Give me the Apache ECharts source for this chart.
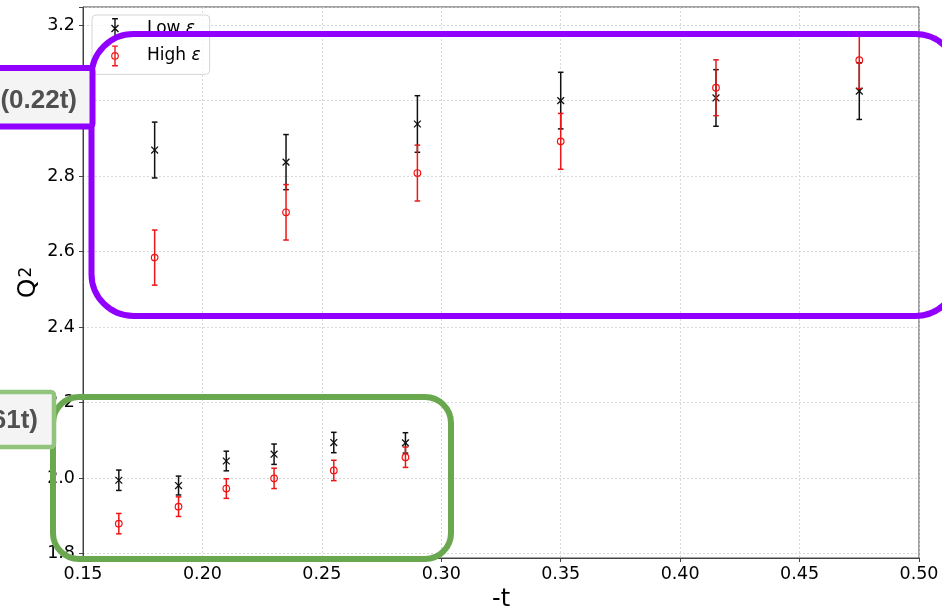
<!DOCTYPE html>
<html>
<head>
<meta charset="utf-8">
<script src="https://cdn.jsdelivr.net/npm/echarts@6/dist/echarts.min.js"></script>
<style>
  html, body { margin: 0; padding: 0; background: #fff; }
  #chart { width: 942px; height: 610px; }
</style>
</head>
<body>
<div id="chart"></div>
<script>
// -t values of the measured points
const tValues    = [0.165, 0.19, 0.21, 0.23, 0.255, 0.285, 0.18, 0.235, 0.29, 0.35, 0.415, 0.475];
// Q^2 at low epsilon, with symmetric errors
const lowEpsQ2   = [1.994, 1.980, 2.045, 2.063, 2.094, 2.093, 2.869, 2.837, 2.938, 3.000, 3.007, 3.025];
const lowEpsErr  = [0.027, 0.025, 0.026, 0.027, 0.027, 0.027, 0.074, 0.073, 0.075, 0.075, 0.075, 0.075];
// Q^2 at high epsilon, with symmetric errors
const highEpsQ2  = [1.879, 1.924, 1.972, 1.999, 2.020, 2.055, 2.584, 2.704, 2.808, 2.892, 3.034, 3.107];
const highEpsErr = [0.027, 0.026, 0.026, 0.027, 0.027, 0.027, 0.073, 0.0735, 0.074, 0.074, 0.074, 0.075];
// axis ticks
const xTicks = [0.15, 0.20, 0.25, 0.30, 0.35, 0.40, 0.45, 0.50];
const yTicks = [1.8, 2.0, 2.2, 2.4, 2.6, 2.8, 3.0, 3.2];
// annotation labels
const fitLabelTop = '(0.22t)';
const fitLabelBottom = '(0.61t)';

const LOW_COLOR = '#111111';
const HIGH_COLOR = '#f01515';

function errRender(kind, color) {
  return function (params, api) {
    const x = api.value(0), y = api.value(1), e = api.value(2);
    const c = api.coord([x, y]);
    const top = api.coord([x, y + e]);
    const bot = api.coord([x, y - e]);
    const cap = 2.8;
    const lw = 1.5;
    const children = [
      { type: 'line', shape: { x1: top[0], y1: top[1], x2: bot[0], y2: bot[1] }, style: { stroke: color, lineWidth: lw } },
      { type: 'line', shape: { x1: top[0] - cap, y1: top[1], x2: top[0] + cap, y2: top[1] }, style: { stroke: color, lineWidth: lw } },
      { type: 'line', shape: { x1: bot[0] - cap, y1: bot[1], x2: bot[0] + cap, y2: bot[1] }, style: { stroke: color, lineWidth: lw } }
    ];
    if (kind === 'x') {
      const s = 3.4;
      children.push({ type: 'line', shape: { x1: c[0] - s, y1: c[1] - s, x2: c[0] + s, y2: c[1] + s }, style: { stroke: color, lineWidth: 1.3 } });
      children.push({ type: 'line', shape: { x1: c[0] - s, y1: c[1] + s, x2: c[0] + s, y2: c[1] - s }, style: { stroke: color, lineWidth: 1.3 } });
    } else {
      children.push({ type: 'circle', shape: { cx: c[0], cy: c[1], r: 3.3 }, style: { fill: 'rgba(0,0,0,0)', stroke: color, lineWidth: 1.2 } });
    }
    return { type: 'group', children: children };
  };
}

const lowIcon = 'path://M3.4,0 h1.2 v18 h-1.2 Z M1.5,0 h5 v1.2 h-5 Z M1.5,16.8 h5 v1.2 h-5 Z ' +
  'M0.58,6.42 L1.42,5.58 L7.42,11.58 L6.58,12.42 Z M1.42,12.42 L0.58,11.58 L6.58,5.58 L7.42,6.42 Z';
const highIcon = 'path://M3.4,0 h1.2 v18 h-1.2 Z M1.5,0 h5 v1.2 h-5 Z M1.5,16.8 h5 v1.2 h-5 Z ' +
  'M7.3,9 A3.3,3.3 0 1,1 0.7,9 A3.3,3.3 0 1,1 7.3,9 Z M6.3,9 A2.3,2.3 0 1,0 1.7,9 A2.3,2.3 0 1,0 6.3,9 Z';

const FONT = 'DejaVu Sans';
const chart = echarts.init(document.getElementById('chart'), null, { renderer: 'canvas' });

const option = {
  animation: false,
  backgroundColor: '#ffffff',
  grid: {
    left: 83, right: 23, top: 7, bottom: 52, show: true, borderColor: '#444', borderWidth: 1,
    backgroundColor: 'transparent', containLabel: false, outerBoundsMode: 'none'
  },
  legend: {
    left: 92, top: 15, orient: 'vertical',
    padding: [3, 9, 8, 19], itemGap: 6.4, itemWidth: 10, itemHeight: 21,
    backgroundColor: 'rgba(255,255,255,0.8)', borderColor: '#d6d6d6', borderWidth: 1, borderRadius: 4,
    data: [
      { name: 'Low ε', icon: lowIcon, itemStyle: { color: LOW_COLOR } },
      { name: 'High ε', icon: highIcon, itemStyle: { color: HIGH_COLOR } }
    ],
    formatter: function (name) { return '{sp|}' + name.replace('ε', '{e|ε}'); },
    textStyle: {
      fontFamily: FONT, fontSize: 17, color: '#000',
      rich: {
        sp: { width: 22 },
        e: { fontFamily: FONT, fontSize: 17, fontStyle: 'italic', color: '#000' }
      }
    }
  },
  xAxis: {
    type: 'value', min: xTicks[0], max: xTicks[xTicks.length - 1], interval: 0.05,
    name: '-t', nameLocation: 'middle', nameGap: 26,
    nameTextStyle: { fontFamily: FONT, fontSize: 24, color: '#000' },
    axisLine: { show: true, onZero: false, lineStyle: { color: '#444', width: 1 } },
    axisTick: { show: true, length: 4, lineStyle: { color: '#444' } },
    axisLabel: { fontFamily: FONT, fontSize: 17.5, color: '#000', margin: 7, formatter: function (v) { return v.toFixed(2); } },
    splitLine: { show: true, lineStyle: { color: '#cfcfcf', width: 0.8, type: [2, 2] } }
  },
  yAxis: {
    type: 'value', min: 1.788, max: 3.248, splitNumber: 7,
    name: 'Q{s|2}', nameLocation: 'middle', nameGap: 42, nameRotate: 90, nameMoveOverlap: false,
    nameTextStyle: {
      fontFamily: FONT, fontSize: 25, color: '#000',
      rich: { s: { fontFamily: FONT, fontSize: 17, color: '#000', verticalAlign: 'top', padding: [2, 0, 0, 1] } }
    },
    axisLine: { show: true, onZero: false, lineStyle: { color: '#444', width: 1 } },
    axisTick: { show: true, length: 4, lineStyle: { color: '#444' } },
    axisLabel: {
      fontFamily: FONT, fontSize: 17.5, color: '#000', margin: 8,
      formatter: function (v) {
        for (const t of yTicks) { if (Math.abs(v - t) < 1e-6) return t.toFixed(1); }
        return '';
      }
    },
    splitLine: { show: true, lineStyle: { color: '#cfcfcf', width: 0.8, type: [2, 2] } }
  },
  series: [
    {
      name: 'Low ε', type: 'custom', itemStyle: { color: LOW_COLOR },
      renderItem: errRender('x', LOW_COLOR), encode: { x: 0, y: 1 },
      data: tValues.map(function (t, i) { return [t, lowEpsQ2[i], lowEpsErr[i]]; }), z: 3
    },
    {
      name: 'High ε', type: 'custom', itemStyle: { color: HIGH_COLOR },
      renderItem: errRender('o', HIGH_COLOR), encode: { x: 0, y: 1 },
      data: tValues.map(function (t, i) { return [t, highEpsQ2[i], highEpsErr[i]]; }), z: 4
    }
  ],
  graphic: [
    { type: 'rect', z: 100, shape: { x: 53, y: 397, width: 398, height: 162, r: 26 },
      style: { fill: 'none', stroke: '#6aa84f', lineWidth: 6 } },
    { type: 'rect', z: 101, shape: { x: -10, y: 392, width: 64, height: 55, r: 3 },
      style: { fill: '#f4f4f4', stroke: '#93c47d', lineWidth: 4.5 } },
    { type: 'text', z: 102, style: { text: fitLabelBottom, x: 38, y: 421, align: 'right', verticalAlign: 'middle',
      font: 'bold 26px "Liberation Sans"', fill: '#505050', shadowColor: 'rgba(0,0,0,0.35)', shadowBlur: 2 } },
    { type: 'rect', z: 100, shape: { x: 91.5, y: 34, width: 866, height: 282, r: 42 },
      style: { fill: 'none', stroke: '#9100ff', lineWidth: 6 } },
    { type: 'rect', z: 101, shape: { x: -10, y: 68, width: 102.5, height: 58.5, r: 3 },
      style: { fill: '#f4f4f4', stroke: '#9100ff', lineWidth: 6 } },
    { type: 'text', z: 102, style: { text: fitLabelTop, x: 77, y: 101, align: 'right', verticalAlign: 'middle',
      font: 'bold 26px "Liberation Sans"', fill: '#505050', shadowColor: 'rgba(0,0,0,0.35)', shadowBlur: 2 } }
  ]
};
chart.setOption(option);
</script>
</body>
</html>
